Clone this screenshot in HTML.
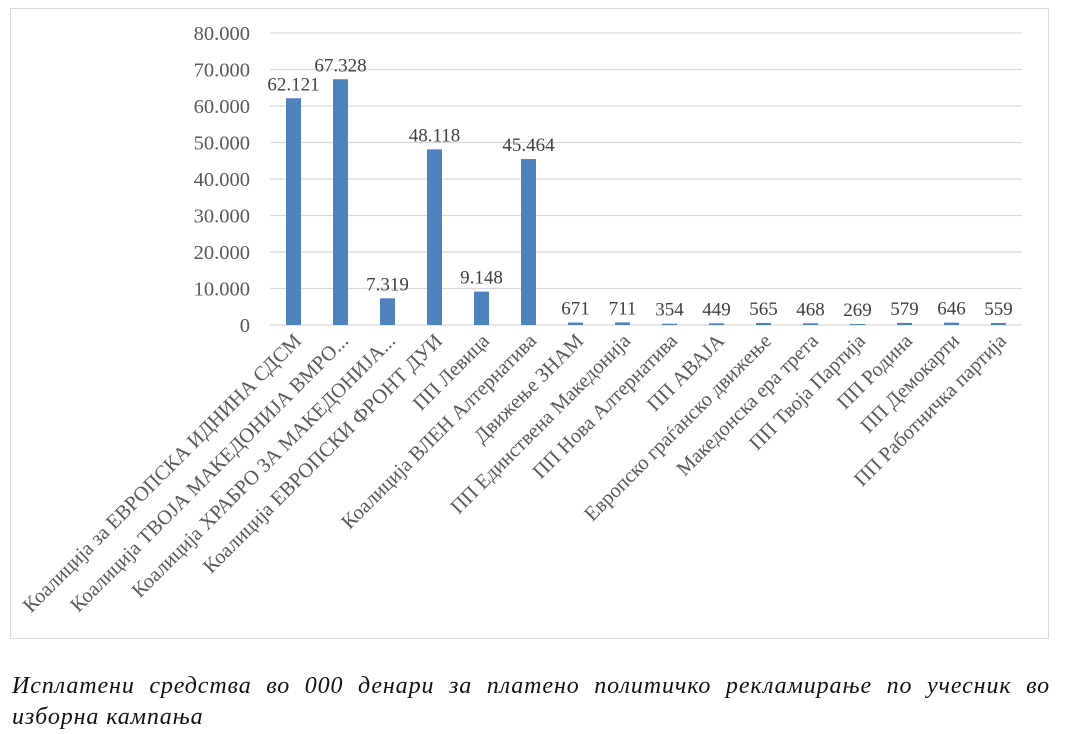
<!DOCTYPE html>
<html><head><meta charset="utf-8"><style>
body{margin:0;background:#fff;width:1080px;height:734px;overflow:hidden;font-family:"Liberation Serif",serif}
#cap{position:absolute;left:12px;top:671px;width:1038px;font-style:italic;font-size:24px;line-height:31px;color:#111;letter-spacing:0.9px}
#cap .l1{text-align:justify;text-align-last:justify;white-space:nowrap}
</style></head><body>
<svg width="1080" height="660" style="position:absolute;left:0;top:0" id="svg">
<rect x="10.5" y="8.5" width="1038" height="630" fill="#fff" stroke="#d9d9d9"/>
</svg>
<div id="cap"><div class="l1">Исплатени средства во 000 денари за платено политичко рекламирање по учесник во</div><div>изборна кампања</div></div>
<script>
const categories=["Коалиција за ЕВРОПСКА ИДНИНА СДСМ","Коалиција ТВОЈА МАКЕДОНИЈА  ВМРО...","Коалиција ХРАБРО ЗА МАКЕДОНИЈА...","Коалиција ЕВРОПСКИ ФРОНТ ДУИ","ПП Левица","Коалиција ВЛЕН Алтернатива","Движење ЗНАМ","ПП Единствена Македонија","ПП Нова Алтернатива","ПП АВАЈА","Европско граѓанско движење","Македонска ера трета","ПП Твоја Партија","ПП Родина","ПП Демокарти","ПП Работничка партија"];
const values=[62121,67328,7319,48118,9148,45464,671,711,354,449,565,468,269,579,646,559];
const labels=["62.121","67.328","7.319","48.118","9.148","45.464","671","711","354","449","565","468","269","579","646","559"];
const ticks=[0,10000,20000,30000,40000,50000,60000,70000,80000];
const tickLabels=["0","10.000","20.000","30.000","40.000","50.000","60.000","70.000","80.000"];
const svg=document.getElementById('svg');const NS="http://www.w3.org/2000/svg";
const y0=325,y1=33,x0=270,x1=1022;
const y=v=>y0-(v/80000)*(y0-y1);
const step=(x1-x0)/categories.length;
const x=i=>x0+step*(i+0.5);
function mk(t,a,txt){const e=document.createElementNS(NS,t);for(const k in a)e.setAttribute(k,a[k]);if(txt!=null)e.textContent=txt;svg.appendChild(e);return e;}
ticks.forEach((t,i)=>{
 const g=mk('line',{x1:x0,x2:x1,y1:y(t),y2:y(t),stroke:'#d9d9d9','stroke-width':1.3});
 
 
 const l=mk('text',{x:250,y:y(t)+7,'text-anchor':'end','font-size':20.5,fill:'#595959','font-family':'Liberation Serif'},tickLabels[i]);
 
 
});
values.forEach((v,i)=>{
 const b=mk('rect',{x:x(i)-7.5,y:y(v),width:15,height:y0-y(v),fill:'#4f81bd'});
 
 
 const dl=mk('text',{x:x(i),y:y(v)-8,'text-anchor':'middle','font-size':19,fill:'#404040','font-family':'Liberation Serif'},labels[i]);
 
 
 const cx=x(i)+9,cy=342;
 const c=mk('text',{x:cx,y:cy,'text-anchor':'end','font-size':20.5,fill:'#595959','font-family':'Liberation Serif',transform:`rotate(-45 ${cx} ${cy})`},categories[i]);
 
 
});
</script>
</body></html>
